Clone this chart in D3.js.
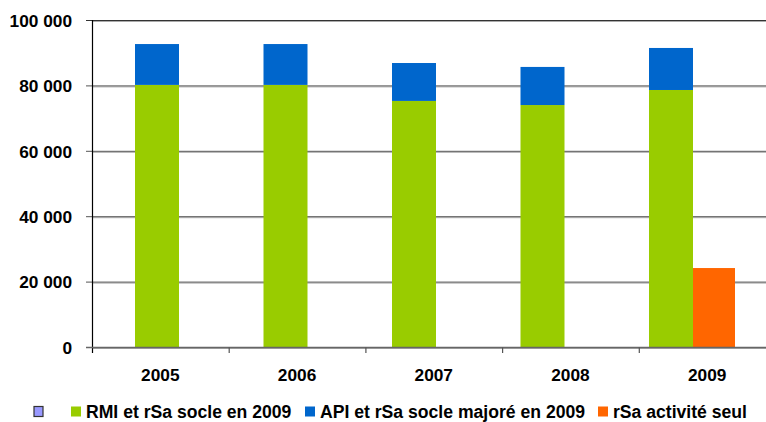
<!DOCTYPE html>
<html>
<head>
<meta charset="utf-8">
<script src="https://cdn.jsdelivr.net/npm/d3@7"></script>
<style>
  body { margin: 0; background: #fff; }
  svg text { font-family: "Liberation Sans", Arial, sans-serif; font-weight: bold; fill: #000; }
</style>
</head>
<body>
<div id="chart"></div>
<script>
var years = ["2005", "2006", "2007", "2008", "2009"];
var rmiSocle = [80300, 80300, 75400, 74150, 78750];
var apiMajore = [12500, 12500, 11600, 11650, 12850];
var rsaActivite = [0, 0, 0, 0, 24300];
var yTicks = [0, 20000, 40000, 60000, 80000, 100000];
var seriesNames = ["", "RMI et rSa socle en 2009", "API et rSa socle majoré en 2009", "rSa activité seul"];
var seriesColors = ["#9999ff", "#99cc00", "#0066cc", "#ff6600"];

var width = 766, height = 422;
var svg = d3.select("#chart").append("svg").attr("width", width).attr("height", height);

var y = d3.scaleLinear().domain([0, 100000]).range([347.5, 20.5]);
// category axis (labels and tick marks)
var x = d3.scaleBand().domain(years).range([92, 775.5]);
// bars sit on their own category spacing
var xBar = d3.scaleBand().domain(years).range([91, 733.5]);
var xSlot = d3.scaleBand().domain(["vide", "socle", "activite"]).range([0, 132]);

var fmt = function(d) { return d3.format(",")(d).replace(/,/g, " "); };

// gridlines
var grid = svg.append("g");
yTicks.forEach(function(t) {
	grid.append("line").attr("x1", 92).attr("x2", width).attr("y1", y(t) + 1).attr("y2", y(t) + 1)
		.attr("stroke", "#aaa").attr("stroke-width", 1);
	grid.append("line").attr("x1", 86).attr("x2", width).attr("y1", y(t)).attr("y2", y(t))
		.attr("stroke", t == 100000 ? "#333" : "#555").attr("stroke-width", 1);
});

// y labels
svg.append("g").selectAll("text")
	.data(yTicks)
	.enter().append("text")
		.attr("x", 72)
		.attr("y", function(d) { return y(d); })
		.attr("dy", "0.36em")
		.attr("text-anchor", "end")
		.style("font-size", "17.3px")
		.text(fmt);

// bars
var bars = svg.append("g");
years.forEach(function(yr, i) {
	var x0 = xBar(yr);
	bars.append("rect")
		.attr("x", x0 + xSlot("socle")).attr("width", xSlot.bandwidth())
		.attr("y", y(rmiSocle[i])).attr("height", y(0) - y(rmiSocle[i]))
		.attr("fill", seriesColors[1]);
	bars.append("rect")
		.attr("x", x0 + xSlot("socle")).attr("width", xSlot.bandwidth())
		.attr("y", y(rmiSocle[i] + apiMajore[i])).attr("height", y(rmiSocle[i]) - y(rmiSocle[i] + apiMajore[i]))
		.attr("fill", seriesColors[2]);
	if (rsaActivite[i] > 0) {
		bars.append("rect")
			.attr("x", x0 + xSlot("activite")).attr("width", xSlot.bandwidth() - 2)
			.attr("y", y(rsaActivite[i])).attr("height", y(0) - y(rsaActivite[i]))
			.attr("fill", seriesColors[3]);
	}
});

// y axis line
svg.append("line").attr("x1", 92.5).attr("x2", 92.5).attr("y1", 20).attr("y2", 353)
	.attr("stroke", "#000").attr("stroke-width", 1.2);

// x axis baseline and ticks
svg.append("line").attr("x1", 86).attr("x2", width).attr("y1", y(0)).attr("y2", y(0))
	.attr("stroke", "#666").attr("stroke-width", 1.5);
svg.append("g").selectAll("line")
	.data(years.slice(1))
	.enter().append("line")
		.attr("x1", function(d) { return x(d) + 0.5; })
		.attr("x2", function(d) { return x(d) + 0.5; })
		.attr("y1", y(0)).attr("y2", 353)
		.attr("stroke", "#555").attr("stroke-width", 1.2);

// x labels
svg.append("g").selectAll("text")
	.data(years)
	.enter().append("text")
		.attr("x", function(d) { return x(d) + x.bandwidth() / 2; })
		.attr("y", 381)
		.attr("text-anchor", "middle")
		.style("font-size", "17.3px")
		.text(function(d) { return d; });

// legend
var legendX = [34, 71, 305, 598];
var legend = svg.append("g");
seriesNames.forEach(function(name, i) {
	var sq = legend.append("rect")
		.attr("x", legendX[i]).attr("y", 406.5).attr("width", 10).attr("height", 10)
		.attr("fill", seriesColors[i]);
	if (i == 0) sq.attr("stroke", "#333").attr("stroke-width", 1.2).attr("width", 9).attr("height", 10);
	if (name) {
		legend.append("text")
			.attr("x", legendX[i] + 15).attr("y", 418)
			.style("font-size", "17.6px")
			.text(name);
	}
});
</script>
</body>
</html>
